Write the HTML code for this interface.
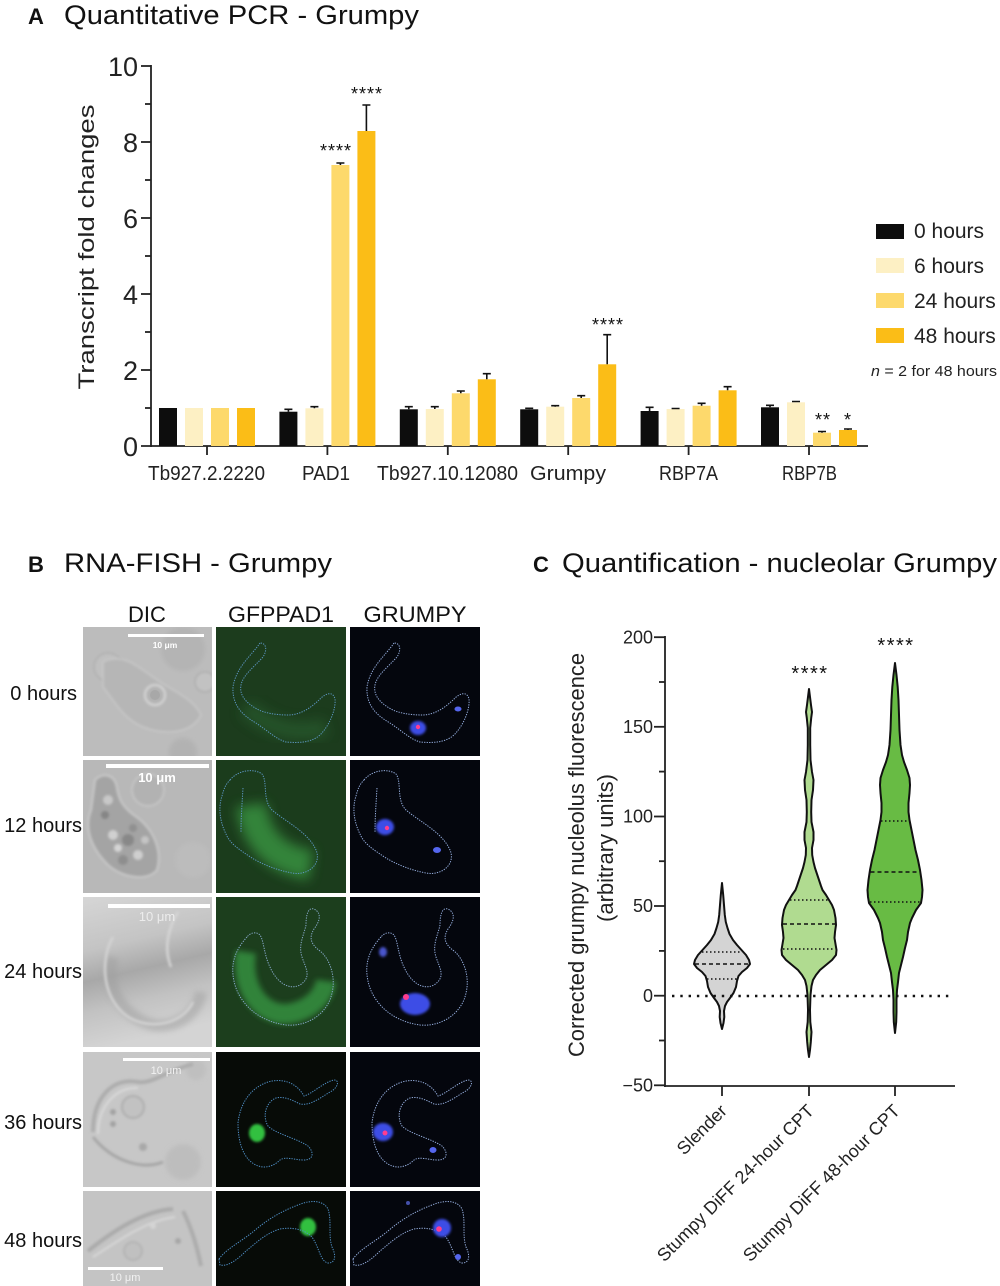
<!DOCTYPE html>
<html><head><meta charset="utf-8"><style>
html,body{margin:0;padding:0;background:#fff;}
svg{display:block;}
</style></head><body>
<svg width="1000" height="1286" viewBox="0 0 1000 1286" xmlns="http://www.w3.org/2000/svg" font-family="'Liberation Sans', Arial, sans-serif">
<defs>
<filter id="blur3" x="-50%" y="-50%" width="200%" height="200%"><feGaussianBlur stdDeviation="3"/></filter>
<filter id="blur6" x="-50%" y="-50%" width="200%" height="200%"><feGaussianBlur stdDeviation="6"/></filter>
<filter id="blur1" x="-50%" y="-50%" width="200%" height="200%"><feGaussianBlur stdDeviation="1.2"/></filter>
<filter id="blur2" x="-50%" y="-50%" width="200%" height="200%"><feGaussianBlur stdDeviation="2"/></filter>
<path id="c1" d="M44,16 C36,28 20,40 17,60 C16,78 26,88 40,96 C52,104 60,112 70,115 C82,116 95,116 104,108 C114,98 120,82 119,72 C117,64 110,66 104,72 C96,80 85,88 72,88 C60,88 48,86 41,82 C30,76 23,68 25,58 C27,48 38,40 47,30 C51,24 51,16 44,16 Z"/>
<path id="c2" d="M14,20 C22,10 38,8 46,14 C52,22 46,40 56,50 C70,62 92,72 100,90 C106,104 92,116 76,113 C60,110 46,104 36,98 C24,90 14,84 10,74 C4,62 2,48 6,36 C8,28 10,24 14,20 Z M27,28 C26,44 25,58 25,72"/>
<path id="c3" d="M31,40 C20,52 14,66 18,84 C22,104 40,124 70,128 C92,130 112,116 116,96 C120,80 114,62 104,54 C96,48 92,42 98,32 C104,24 106,16 98,12 C92,10 90,18 90,28 C88,38 82,48 86,60 C90,72 96,80 84,88 C72,94 60,84 54,70 C48,58 48,44 44,38 C40,34 34,36 31,40 Z"/>
<path id="c4" d="M22,71 C24,52 34,36 52,30 C66,26 80,30 88,44 C96,42 108,30 118,28 C124,28 122,36 114,40 C104,46 94,54 84,52 C76,48 68,44 60,46 C50,50 46,64 52,74 C60,82 80,86 92,94 C98,100 98,108 88,108 C78,108 70,104 64,108 C58,114 48,118 38,112 C28,106 22,92 22,71 Z"/>
<path id="c5" d="M3,68 C10,58 26,50 38,40 C52,28 66,20 82,14 C96,8 108,10 112,18 C116,30 112,44 116,56 C120,64 120,72 112,72 C104,70 104,58 96,46 C88,38 76,36 64,38 C50,42 40,52 30,60 C22,68 12,76 4,74 Z"/>
<linearGradient id="dic3" x1="0" y1="0" x2="0.2" y2="1">
<stop offset="0" stop-color="#d6d6d6"/><stop offset="0.35" stop-color="#c4c4c4"/><stop offset="0.55" stop-color="#a8a8a8"/><stop offset="0.75" stop-color="#c2c2c2"/><stop offset="1" stop-color="#d4d4d4"/></linearGradient>
</defs>

<!-- ================= PANEL A ================= -->
<text x="28" y="24" font-size="22" font-weight="bold" fill="#111">A</text>
<text x="64" y="24" font-size="27" fill="#111" textLength="355" lengthAdjust="spacingAndGlyphs">Quantitative PCR - Grumpy</text>

<g stroke="#222" stroke-width="1.8">
<line x1="151" y1="65" x2="151" y2="447"/>
<line x1="141" y1="446" x2="868" y2="446"/>
<line x1="141" y1="66" x2="151" y2="66"/>
<line x1="141" y1="142" x2="151" y2="142"/>
<line x1="141" y1="218" x2="151" y2="218"/>
<line x1="141" y1="294" x2="151" y2="294"/>
<line x1="141" y1="370" x2="151" y2="370"/>
<line x1="145" y1="104" x2="151" y2="104"/>
<line x1="145" y1="180" x2="151" y2="180"/>
<line x1="145" y1="256" x2="151" y2="256"/>
<line x1="145" y1="332" x2="151" y2="332"/>
<line x1="145" y1="408" x2="151" y2="408"/>
<line x1="207" y1="446" x2="207" y2="455"/>
<line x1="327.4" y1="446" x2="327.4" y2="455"/>
<line x1="447.8" y1="446" x2="447.8" y2="455"/>
<line x1="568.2" y1="446" x2="568.2" y2="455"/>
<line x1="688.6" y1="446" x2="688.6" y2="455"/>
<line x1="809" y1="446" x2="809" y2="455"/>
</g>
<g font-size="27" fill="#222" text-anchor="end">
<text x="138" y="76">10</text>
<text x="138" y="152">8</text>
<text x="138" y="228">6</text>
<text x="138" y="304">4</text>
<text x="138" y="380">2</text>
<text x="138" y="456">0</text>
</g>
<text transform="translate(94,247) rotate(-90)" font-size="22" fill="#222" text-anchor="middle" textLength="285" lengthAdjust="spacingAndGlyphs">Transcript fold changes</text>

<g>
<rect x="159" y="408" width="18" height="38" fill="#0d0d0d"/>
<rect x="185" y="408" width="18" height="38" fill="#fdf0c4"/>
<rect x="211" y="408" width="18" height="38" fill="#fdd96c"/>
<rect x="237" y="408" width="18" height="38" fill="#fbbd17"/>
<rect x="279.4" y="411.7" width="18" height="34.3" fill="#0d0d0d"/>
<rect x="305.4" y="408.3" width="18" height="37.7" fill="#fdf0c4"/>
<rect x="331.4" y="165" width="18" height="281" fill="#fdd96c"/>
<rect x="357.4" y="131" width="18" height="315" fill="#fbbd17"/>
<rect x="399.8" y="409.3" width="18" height="36.7" fill="#0d0d0d"/>
<rect x="425.8" y="409" width="18" height="37" fill="#fdf0c4"/>
<rect x="451.8" y="393.3" width="18" height="52.7" fill="#fdd96c"/>
<rect x="477.8" y="379.3" width="18" height="66.7" fill="#fbbd17"/>
<rect x="520.2" y="409.3" width="18" height="36.7" fill="#0d0d0d"/>
<rect x="546.2" y="406.7" width="18" height="39.3" fill="#fdf0c4"/>
<rect x="572.2" y="398" width="18" height="48" fill="#fdd96c"/>
<rect x="598.2" y="364.3" width="18" height="81.7" fill="#fbbd17"/>
<rect x="640.6" y="411" width="18" height="35" fill="#0d0d0d"/>
<rect x="666.6" y="409" width="18" height="37" fill="#fdf0c4"/>
<rect x="692.6" y="405.7" width="18" height="40.3" fill="#fdd96c"/>
<rect x="718.6" y="390.3" width="18" height="55.7" fill="#fbbd17"/>
<rect x="761" y="407.3" width="18" height="38.7" fill="#0d0d0d"/>
<rect x="787" y="402.3" width="18" height="43.7" fill="#fdf0c4"/>
<rect x="813" y="432.7" width="18" height="13.3" fill="#fdd96c"/>
<rect x="839" y="430" width="18" height="16" fill="#fbbd17"/>
</g>
<g stroke="#111" stroke-width="1.6" fill="none">
<path d="M288.4,411.7V409.3M284.4,409.3h8"/>
<path d="M314.4,408.3V406.7M310.4,406.7h8"/>
<path d="M340.4,165V163M336.4,163h8"/>
<path d="M366.4,131V105M362.4,105h8"/>
<path d="M408.8,409.3V406.7M404.8,406.7h8"/>
<path d="M434.8,409V406.7M430.8,406.7h8"/>
<path d="M460.8,393.3V391M456.8,391h8"/>
<path d="M486.8,379.3V373.7M482.8,373.7h8"/>
<path d="M529.2,409.3V408.3M525.2,408.3h8"/>
<path d="M555.2,406.7V405.7M551.2,405.7h8"/>
<path d="M581.2,398V395.7M577.2,395.7h8"/>
<path d="M607.2,364.3V334.7M603.2,334.7h8"/>
<path d="M649.6,411V407.3M645.6,407.3h8"/>
<path d="M675.6,409V408.5M671.6,408.5h8"/>
<path d="M701.6,405.7V403.3M697.6,403.3h8"/>
<path d="M727.6,390.3V386.7M723.6,386.7h8"/>
<path d="M770,407.3V405.3M766,405.3h8"/>
<path d="M796,402.3V401.5M792,401.5h8"/>
<path d="M822,432.7V431.5M818,431.5h8"/>
<path d="M848,430V429M844,429h8"/>
</g>
<g font-size="18" fill="#111" text-anchor="middle" letter-spacing="1">
<text x="336" y="157">****</text>
<text x="367" y="100">****</text>
<text x="608" y="331">****</text>
<text x="823" y="426">**</text>
<text x="848" y="426">*</text>
</g>
<g font-size="20" fill="#222" text-anchor="middle">
<text x="206.5" y="480" textLength="117" lengthAdjust="spacingAndGlyphs">Tb927.2.2220</text>
<text x="326" y="480" textLength="48" lengthAdjust="spacingAndGlyphs">PAD1</text>
<text x="447.5" y="480" textLength="141" lengthAdjust="spacingAndGlyphs">Tb927.10.12080</text>
<text x="568" y="480" textLength="76" lengthAdjust="spacingAndGlyphs">Grumpy</text>
<text x="688.5" y="480" textLength="59" lengthAdjust="spacingAndGlyphs">RBP7A</text>
<text x="809.5" y="480" textLength="55" lengthAdjust="spacingAndGlyphs">RBP7B</text>
</g>
<rect x="876" y="224" width="28" height="15" fill="#0d0d0d"/>
<rect x="876" y="258" width="28" height="15" fill="#fdf0c4"/>
<rect x="876" y="293" width="28" height="15" fill="#fdd96c"/>
<rect x="876" y="328" width="28" height="15" fill="#fbbd17"/>
<g font-size="21" fill="#222">
<text x="914" y="238">0 hours</text>
<text x="914" y="273">6 hours</text>
<text x="914" y="308">24 hours</text>
<text x="914" y="343">48 hours</text>
</g>
<text x="871" y="376" font-size="15" fill="#222" textLength="126" lengthAdjust="spacingAndGlyphs"><tspan font-style="italic">n</tspan> = 2 for 48 hours</text>

<!-- ================= PANEL B ================= -->
<text x="28" y="572" font-size="22" font-weight="bold" fill="#111">B</text>
<text x="64" y="572" font-size="27" fill="#111" textLength="268" lengthAdjust="spacingAndGlyphs">RNA-FISH - Grumpy</text>
<g font-size="22" fill="#111" text-anchor="middle">
<text x="147" y="622">DIC</text>
<text x="281" y="622" textLength="106" lengthAdjust="spacingAndGlyphs">GFPPAD1</text>
<text x="415" y="622" textLength="103" lengthAdjust="spacingAndGlyphs">GRUMPY</text>
</g>
<g font-size="20" fill="#111" text-anchor="end">
<text x="77" y="700">0 hours</text>
<text x="82" y="832">12 hours</text>
<text x="82" y="978">24 hours</text>
<text x="82" y="1129">36 hours</text>
<text x="82" y="1247">48 hours</text>
</g>

<!-- Row 1 -->
<svg x="83" y="627" width="129" height="129">
<rect width="129" height="129" fill="#bcbcbc"/>
<circle cx="100" cy="22" r="22" fill="#b4b4b4" filter="url(#blur2)"/>
<circle cx="25" cy="40" r="14" fill="#c0c0c0" stroke="#afafaf" stroke-width="1.5" filter="url(#blur1)"/>
<path d="M20,35 C40,25 55,40 70,50 C85,62 110,70 118,88 C108,108 80,108 60,100 C40,92 30,72 20,60 Z" fill="#b6b6b6" stroke="#c8c8c8" stroke-width="1.5" filter="url(#blur1)"/>
<circle cx="72" cy="68" r="10" fill="#b3b3b3" stroke="#d2d2d2" stroke-width="2.5" filter="url(#blur1)"/>
<circle cx="72" cy="68" r="5" fill="#a8a8a8"/>
<circle cx="122" cy="55" r="10" fill="#c2c2c2" stroke="#adadad" stroke-width="1.5" filter="url(#blur1)"/>
<circle cx="100" cy="125" r="14" fill="#b2b2b2" filter="url(#blur2)"/>
<rect x="45" y="7" width="76" height="3" fill="#fff"/>
<text x="82" y="21" font-size="8.5" font-weight="bold" fill="#fff" text-anchor="middle">10 μm</text>
</svg>
<svg x="216" y="627" width="130" height="129">
<rect width="130" height="129" fill="#1c3c1d"/>
<path d="M30,80 C50,100 80,110 110,100" stroke="#2a6230" stroke-width="18" fill="none" filter="url(#blur6)" opacity="0.6"/>
<use href="#c1" fill="none" stroke="#5c95c0" stroke-width="1" stroke-dasharray="1.3 1.2"/>
</svg>
<svg x="350" y="627" width="130" height="129">
<rect width="130" height="129" fill="#04060d"/>
<use href="#c1" fill="none" stroke="#95aede" stroke-width="1" stroke-dasharray="1.3 1.2"/>
<ellipse cx="68" cy="101" rx="8" ry="7" fill="#3d4ee6" filter="url(#blur1)"/>
<circle cx="68" cy="100" r="2.2" fill="#ff3d8f"/>
<ellipse cx="108" cy="82" rx="3.5" ry="2.5" fill="#5566ee"/>
</svg>

<!-- Row 2 -->
<svg x="83" y="760" width="129" height="133">
<rect width="129" height="133" fill="#b8b8b8"/>
<circle cx="65" cy="30" r="16" fill="#b2b2b2" stroke="#c4c4c4" stroke-width="2" filter="url(#blur1)"/>
<circle cx="110" cy="100" r="18" fill="#bcbcbc" filter="url(#blur2)"/>
<path d="M12,20 C20,12 32,14 34,28 C36,40 40,48 55,58 C70,70 80,90 74,110 C64,122 40,118 25,105 C10,90 0,70 8,50 Z" fill="#a4a4a4" stroke="#c8c8c8" stroke-width="2" filter="url(#blur1)"/>
<g filter="url(#blur1)">
<circle cx="30" cy="75" r="5" fill="#d0d0d0"/><circle cx="45" cy="80" r="6" fill="#888"/><circle cx="55" cy="95" r="5" fill="#cfcfcf"/><circle cx="40" cy="100" r="5" fill="#8e8e8e"/><circle cx="25" cy="40" r="5" fill="#c8c8c8"/><circle cx="22" cy="55" r="4" fill="#858585"/><circle cx="62" cy="80" r="4" fill="#c4c4c4"/><circle cx="35" cy="88" r="4" fill="#d4d4d4"/><circle cx="50" cy="68" r="4" fill="#909090"/>
</g>
<rect x="23" y="4" width="103" height="4" fill="#fff"/>
<text x="74" y="22" font-size="13" font-weight="bold" fill="#fff" text-anchor="middle">10 μm</text>
</svg>
<svg x="216" y="760" width="130" height="133">
<rect width="130" height="133" fill="#1b3c1c"/>
<path d="M35,45 C40,80 60,100 95,105" stroke="#38913f" stroke-width="30" fill="none" filter="url(#blur6)" opacity="0.85"/>
<use href="#c2" fill="none" stroke="#5c95c0" stroke-width="1" stroke-dasharray="1.3 1.2"/>
</svg>
<svg x="350" y="760" width="130" height="133">
<rect width="130" height="133" fill="#04060d"/>
<use href="#c2" fill="none" stroke="#95aede" stroke-width="1" stroke-dasharray="1.3 1.2"/>
<ellipse cx="35" cy="67" rx="9" ry="8" fill="#3d4ee6" filter="url(#blur1)"/>
<circle cx="37" cy="68" r="2.2" fill="#ff3d8f"/>
<ellipse cx="87" cy="90" rx="4" ry="3" fill="#5566ee"/>
</svg>

<!-- Row 3 -->
<svg x="83" y="897" width="129" height="150">
<rect width="129" height="150" fill="url(#dic3)"/>
<path d="M30,60 C20,90 40,120 70,128 C95,132 115,115 118,95" stroke="#9f9f9f" stroke-width="12" fill="none" opacity="0.5" filter="url(#blur3)"/>
<path d="M30,40 C18,60 18,96 40,116 C60,134 98,130 110,105" stroke="#d4d4d4" stroke-width="2.5" fill="none" filter="url(#blur1)"/>
<path d="M88,70 C80,50 86,30 95,15" stroke="#d6d6d6" stroke-width="2.5" fill="none" filter="url(#blur1)"/>
<rect x="25" y="7" width="102" height="4" fill="#fff"/>
<text x="74" y="24" font-size="13" fill="#f2f2f2" text-anchor="middle" opacity="0.85">10 μm</text>
</svg>
<svg x="216" y="897" width="130" height="150">
<rect width="130" height="150" fill="#1c3e1d"/>
<path d="M30,55 C24,96 50,122 76,116 C96,112 108,98 110,84" stroke="#35903f" stroke-width="20" fill="none" filter="url(#blur3)" opacity="0.85"/>
<use href="#c3" fill="none" stroke="#86a8c8" stroke-width="1" stroke-dasharray="1.3 1.2"/>
</svg>
<svg x="350" y="897" width="130" height="150">
<rect width="130" height="150" fill="#04060d"/>
<use href="#c3" fill="none" stroke="#95aede" stroke-width="1" stroke-dasharray="1.3 1.2"/>
<ellipse cx="65" cy="107" rx="15" ry="11" fill="#3d4ee6" filter="url(#blur1)"/>
<circle cx="56" cy="100" r="3" fill="#ff3d8f"/>
<ellipse cx="33" cy="55" rx="4" ry="5" fill="#4a55cc" filter="url(#blur1)"/>
</svg>

<!-- Row 4 -->
<svg x="83" y="1052" width="129" height="135">
<rect width="129" height="135" fill="#c7c7c7"/>
<circle cx="100" cy="110" r="18" fill="#bdbdbd" filter="url(#blur2)"/>
<circle cx="113" cy="18" r="10" fill="#bfbfbf" filter="url(#blur2)"/>
<g filter="url(#blur1)">
<path d="M10,80 C10,45 30,25 55,30 C70,32 80,20 110,12" stroke="#adadad" stroke-width="4" fill="none"/>
<path d="M15,82 C15,55 32,35 55,36" stroke="#dadada" stroke-width="2" fill="none"/>
<path d="M10,85 C30,110 60,118 80,110" stroke="#a6a6a6" stroke-width="3" fill="none"/>
<circle cx="50" cy="55" r="11" fill="#c2c2c2" stroke="#adadad" stroke-width="2"/>
<circle cx="30" cy="60" r="3" fill="#a2a2a2"/><circle cx="30" cy="72" r="3" fill="#a2a2a2"/><circle cx="60" cy="95" r="4" fill="#a8a8a8"/>
</g>
<rect x="40" y="6" width="87" height="3" fill="#fff"/>
<text x="83" y="22" font-size="11" fill="#f2f2f2" text-anchor="middle">10 μm</text>
</svg>
<svg x="216" y="1052" width="130" height="135">
<rect width="130" height="135" fill="#070b07"/>
<ellipse cx="41" cy="81" rx="8" ry="9" fill="#33c040" filter="url(#blur1)"/>
<use href="#c4" fill="none" stroke="#4f8ec4" stroke-width="1" stroke-dasharray="1.3 1.2"/>
</svg>
<svg x="350" y="1052" width="130" height="135">
<rect width="130" height="135" fill="#04060d"/>
<use href="#c4" fill="none" stroke="#95aede" stroke-width="1" stroke-dasharray="1.3 1.2"/>
<ellipse cx="33" cy="80" rx="10" ry="9" fill="#3d4ee6" filter="url(#blur1)"/>
<circle cx="35" cy="81" r="2.5" fill="#ff3d8f"/>
<ellipse cx="83" cy="98" rx="3.5" ry="3" fill="#5566ee"/>
</svg>

<!-- Row 5 -->
<svg x="83" y="1191" width="129" height="95">
<rect width="129" height="95" fill="#c4c4c4"/>
<g filter="url(#blur1)">
<path d="M5,60 C30,40 60,20 90,18" stroke="#aaaaaa" stroke-width="4" fill="none"/>
<path d="M10,66 C35,50 62,30 92,26" stroke="#d8d8d8" stroke-width="2" fill="none"/>
<path d="M100,20 C110,40 115,60 118,75" stroke="#acacac" stroke-width="4" fill="none"/>
<circle cx="50" cy="60" r="9" fill="#c0c0c0" stroke="#afafaf" stroke-width="1.5"/>
<circle cx="70" cy="35" r="3" fill="#d4d4d4"/><circle cx="95" cy="50" r="3" fill="#a6a6a6"/>
</g>
<rect x="5" y="76" width="75" height="3" fill="#fff"/>
<text x="42" y="90" font-size="11" fill="#f2f2f2" text-anchor="middle">10 μm</text>
</svg>
<svg x="216" y="1191" width="130" height="95">
<rect width="130" height="95" fill="#070b07"/>
<ellipse cx="92" cy="36" rx="8" ry="9" fill="#33c040" filter="url(#blur1)"/>
<use href="#c5" fill="none" stroke="#4f8ec4" stroke-width="1" stroke-dasharray="1.3 1.2"/>
</svg>
<svg x="350" y="1191" width="130" height="95">
<rect width="130" height="95" fill="#04060d"/>
<use href="#c5" fill="none" stroke="#95aede" stroke-width="1" stroke-dasharray="1.3 1.2"/>
<ellipse cx="92" cy="37" rx="9" ry="9" fill="#3d4ee6" filter="url(#blur1)"/>
<circle cx="89" cy="38" r="2.8" fill="#ff3d8f"/>
<circle cx="108" cy="66" r="3" fill="#5566ee"/>
<circle cx="58" cy="12" r="2" fill="#4450aa"/>
</svg>

<!-- ================= PANEL C ================= -->
<text x="533" y="572" font-size="22" font-weight="bold" fill="#111">C</text>
<text x="562" y="572" font-size="27" fill="#111" textLength="435" lengthAdjust="spacingAndGlyphs">Quantification - nucleolar Grumpy</text>

<text transform="translate(584,855) rotate(-90)" font-size="22" fill="#222" text-anchor="middle" textLength="404" lengthAdjust="spacingAndGlyphs">Corrected grumpy nucleolus fluorescence</text>
<text transform="translate(613,848) rotate(-90)" font-size="22" fill="#222" text-anchor="middle" textLength="148" lengthAdjust="spacingAndGlyphs">(arbitrary units)</text>

<g stroke="#222" stroke-width="1.8">
<line x1="665" y1="636" x2="665" y2="1087"/>
<line x1="664" y1="1086" x2="955" y2="1086"/>
<line x1="654" y1="637.2" x2="665" y2="637.2"/>
<line x1="654" y1="726.8" x2="665" y2="726.8"/>
<line x1="654" y1="816.5" x2="665" y2="816.5"/>
<line x1="654" y1="906" x2="665" y2="906"/>
<line x1="654" y1="995.7" x2="665" y2="995.7"/>
<line x1="654" y1="1085.3" x2="665" y2="1085.3"/>
<line x1="659" y1="682" x2="665" y2="682"/>
<line x1="659" y1="771.6" x2="665" y2="771.6"/>
<line x1="659" y1="861.2" x2="665" y2="861.2"/>
<line x1="659" y1="950.9" x2="665" y2="950.9"/>
<line x1="659" y1="1040.5" x2="665" y2="1040.5"/>
<line x1="722" y1="1086" x2="722" y2="1096"/>
<line x1="809" y1="1086" x2="809" y2="1096"/>
<line x1="895" y1="1086" x2="895" y2="1096"/>
</g>
<g font-size="18" fill="#222" text-anchor="end">
<text x="653" y="643.5">200</text>
<text x="653" y="733">150</text>
<text x="653" y="822.7">100</text>
<text x="653" y="912.2">50</text>
<text x="653" y="1002">0</text>
<text x="653" y="1091.5">−50</text>
</g>

<polygon fill="#d4d4d4" stroke="#111" stroke-width="2" stroke-linejoin="round" points="722,883 723.2,895 724,905 724.8,915 725.8,922 727.5,928 729.5,934 733,940 737,945 741.5,950 746,955 749,960 750,964 747,968 742,972 738.5,976 737,981 736,987 733.5,993 730,998 727,1002 725,1006 724,1011 724.3,1017 723.5,1023 722,1029 720.5,1023 719.7,1017 720,1011 719,1006 717,1002 714,998 710.5,993 708,987 707,981 705.5,976 702,972 697,968 694,964 695,960 698,955 702.5,950 707,945 711,940 714.5,934 716.5,928 718.2,922 719.2,915 720,905 720.8,895"/>
<polygon fill="#b0db90" stroke="#111" stroke-width="2" stroke-linejoin="round" points="809,689 810,697 811,705 812,712 811.2,718 810.2,728 810.2,745 810.5,760 812,772 813.5,780 813,790 811.5,800 811.2,812 811.5,822 813.5,832 813.5,840 812,848 812.2,855 813.5,862 815,868 817,874 819,880 821,886 822.5,890 826,895 829,900 832,905 834,910 835.5,918 836,925 835,932 834.5,938 835.5,944 836.5,950 836,955 832,960 826,965 820,970 816,975 813,980 811.5,986 810.5,995 810,1010 810.3,1022 811.5,1032 810.8,1042 810,1050 809,1057 808,1050 807.2,1042 806.5,1032 807.7,1022 808,1010 807.5,995 806.5,986 805,980 802,975 798,970 792,965 786,960 782,955 781.5,950 782.5,944 783.5,938 783,932 782,925 782.5,918 784,910 786,905 789,900 792,895 795.5,890 797,886 799,880 801,874 803,868 804.5,862 805.8,855 806,848 804.5,840 804.5,832 806.5,822 806.8,812 806.5,800 805,790 804.5,780 806,772 807.5,760 807.8,745 807.8,728 806.8,718 806,712 807,705 808,697"/>
<polygon fill="#68bb44" stroke="#111" stroke-width="2" stroke-linejoin="round" points="895,663 896.5,675 897.7,687 898.5,700 899,715 899.5,730 900.5,745 902,755 904,762 907,770 909.5,778 910,785 909.5,793 908.5,803 908.5,812 909.5,820 911.5,830 913.5,840 915.5,850 918,860 920,870 921.5,880 922.5,890 922,897 921,903 916,910 912,918 910,923 908,932 907,940 905,948 903,957 901,965 899,973 898,982 897,990 896.5,1000 896.5,1012 896.2,1022 895,1033 893.8,1022 893.5,1012 893.5,1000 893,990 892,982 891,973 889,965 887,957 885,948 883,940 882,932 880,923 878,918 874,910 869,903 868,897 867.5,890 868.5,880 870,870 872,860 874.5,850 876.5,840 878.5,830 880.5,820 881.5,812 881.5,803 880.5,793 880,785 880.5,778 883,770 886,762 888,755 889.5,745 890.5,730 891,715 891.5,700 892.3,687 893.5,675"/>

<g stroke="#111" stroke-width="1.6" fill="none">
<line x1="702" y1="952" x2="742" y2="952" stroke-dasharray="1.5 2.5"/>
<line x1="695" y1="964" x2="749" y2="964" stroke-dasharray="4 3"/>
<line x1="707" y1="979" x2="737" y2="979" stroke-dasharray="1.5 2.5"/>
<line x1="790" y1="900" x2="828" y2="900" stroke-dasharray="1.5 2.5"/>
<line x1="783" y1="924" x2="835" y2="924" stroke-dasharray="4 3"/>
<line x1="783" y1="949" x2="835" y2="949" stroke-dasharray="1.5 2.5"/>
<line x1="881" y1="821" x2="909" y2="821" stroke-dasharray="1.5 2.5"/>
<line x1="870.5" y1="872" x2="919.5" y2="872" stroke-dasharray="4 3"/>
<line x1="870" y1="902" x2="920" y2="902" stroke-dasharray="1.5 2.5"/>
</g>
<line x1="672" y1="996" x2="954" y2="996" stroke="#111" stroke-width="2.5" stroke-dasharray="2.4 5.9"/>

<g font-size="20" fill="#111" text-anchor="middle" letter-spacing="1.5">
<text x="810" y="680">****</text>
<text x="896" y="652">****</text>
</g>

<g font-size="18" fill="#222" text-anchor="end">
<text transform="translate(728,1112) rotate(-45)">Slender</text>
<text transform="translate(815,1112) rotate(-45)">Stumpy DiFF 24-hour CPT</text>
<text transform="translate(901,1112) rotate(-45)">Stumpy DiFF 48-hour CPT</text>
</g>
</svg>
</body></html>
